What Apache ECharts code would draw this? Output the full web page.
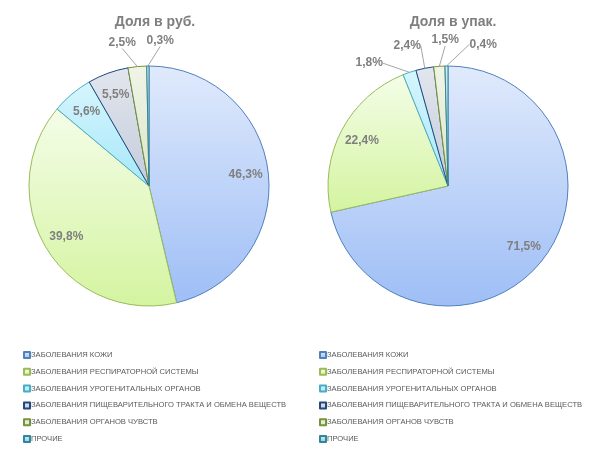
<!DOCTYPE html>
<html>
<head>
<meta charset="utf-8">
<script src="https://cdn.jsdelivr.net/npm/echarts@6/dist/echarts.min.js"></script>
<style>html,body{margin:0;padding:0;background:#fff}#c{width:600px;height:450px}</style>
</head>
<body>
<div id="c"></div>
<script>
const categories = [
  'ЗАБОЛЕВАНИЯ КОЖИ',
  'ЗАБОЛЕВАНИЯ РЕСПИРАТОРНОЙ СИСТЕМЫ',
  'ЗАБОЛЕВАНИЯ УРОГЕНИТАЛЬНЫХ ОРГАНОВ',
  'ЗАБОЛЕВАНИЯ ПИЩЕВАРИТЕЛЬНОГО ТРАКТА И ОБМЕНА ВЕЩЕСТВ',
  'ЗАБОЛЕВАНИЯ ОРГАНОВ ЧУВСТВ',
  'ПРОЧИЕ'
];
const shareRub = [46.3, 39.8, 5.6, 5.5, 2.5, 0.3];
const sharePack = [71.5, 22.4, 1.8, 2.4, 1.5, 0.4];
const titles = ['Доля в руб.', 'Доля в упак.'];

const fillTop = ['#e0eafc', '#f4fde8', '#d6f5fd', '#e2e6ee', '#f0f4e8', '#d0eef4'];
const fillBottom = ['#9ebef6', '#d4f4a0', '#a6e8fa', '#c4ccda', '#dce6c8', '#8ccfe0'];
const borders = ['#4f81bd', '#9bbb59', '#4bacc6', '#1f497d', '#77933c', '#31859c'];

const centers = [[149, 186], [448, 186]];
const R = 120;
const OUT_R = R + 26;
const LABEL_STEP = 38;
const FONT = 'Liberation Sans, Arial, sans-serif';

function grad(i) {
  return new echarts.graphic.LinearGradient(0, 0, 0, 1, [
    { offset: 0, color: fillTop[i] },
    { offset: 1, color: fillBottom[i] }
  ]);
}

function midAngle(values, i) {
  const total = values.reduce((a, b) => a + b, 0);
  let cum = 0;
  for (let k = 0; k < i; k++) cum += values[k];
  return 2 * Math.PI * (cum + values[i] / 2) / total;
}

// Spread the small outside labels symmetrically along the top arc
function outsideLayout(values, c) {
  const items = [];
  values.forEach((v, i) => {
    if (v < 5) items.push({ i: i, ideal: c[0] + OUT_R * Math.sin(midAngle(values, i)) });
  });
  let groups = items.map(it => ({ members: [it], mean: it.ideal }));
  let merged = true;
  while (merged) {
    merged = false;
    for (let g = 0; g < groups.length - 1; g++) {
      const a = groups[g], b = groups[g + 1];
      const aRight = a.mean + (a.members.length - 1) / 2 * LABEL_STEP;
      const bLeft = b.mean - (b.members.length - 1) / 2 * LABEL_STEP;
      if (bLeft - aRight < LABEL_STEP) {
        const members = a.members.concat(b.members);
        const mean = members.reduce((s, m) => s + m.ideal, 0) / members.length;
        groups.splice(g, 2, { members: members, mean: mean });
        merged = true;
        break;
      }
    }
  }
  const pos = {};
  groups.forEach(gr => {
    const n = gr.members.length;
    gr.members.forEach((m, k) => {
      const x = gr.mean + (k - (n - 1) / 2) * LABEL_STEP;
      const dx = Math.min(Math.abs(x - c[0]), OUT_R - 1);
      pos[m.i] = { x: x, y: c[1] - Math.sqrt(OUT_R * OUT_R - dx * dx) };
    });
  });
  return pos;
}

function buildData(values) {
  return values.map((v, i) => ({
    name: categories[i],
    value: v,
    itemStyle: { color: grad(i), borderColor: borders[i], borderWidth: 1 },
    label: { position: v >= 5 ? 'inside' : 'outside' },
    labelLine: { show: v >= 5 ? false : true }
  }));
}

function makeSeries(values, idx) {
  const c = centers[idx];
  const outPos = outsideLayout(values, c);
  return {
    type: 'pie',
    center: c,
    radius: R,
    startAngle: 90,
    clockwise: true,
    avoidLabelOverlap: false,
    data: buildData(values),
    label: {
      formatter: p => p.value.toFixed(1).replace('.', ',') + '%',
      color: '#7f7f7f',
      fontFamily: FONT,
      fontWeight: 'bold',
      fontSize: 12
    },
    labelLine: { length: 8, length2: 0, lineStyle: { color: '#a6a6a6', width: 1 } },
    labelLayout: function (p) {
      const val = values[p.dataIndex];
      if (val >= 5) {
        const a = midAngle(values, p.dataIndex);
        const rho = 0.81 * R;
        return { x: c[0] + rho * Math.sin(a), y: c[1] - rho * Math.cos(a), align: 'center', verticalAlign: 'middle' };
      }
      const q = outPos[p.dataIndex];
      return { x: q.x, y: q.y, align: 'center', verticalAlign: 'middle' };
    },
    emphasis: { disabled: true }
  };
}

function legend(left) {
  return {
    data: categories,
    orient: 'vertical',
    left: left,
    top: 346,
    itemWidth: 6,
    itemHeight: 6,
    itemGap: 8.8,
    icon: 'rect',
    selectedMode: false,
    textStyle: { fontSize: 7.6, color: '#595959', fontFamily: FONT, padding: [0, 0, 0, -4] }
  };
}

const chart = echarts.init(document.getElementById('c'), null, { renderer: 'canvas' });
chart.setOption({
  animation: false,
  backgroundColor: '#ffffff',
  title: [
    { text: titles[0], left: 150, top: 10, textAlign: 'center', textStyle: { fontSize: 14, fontWeight: 'bold', color: '#7f7f7f', fontFamily: FONT } },
    { text: titles[1], left: 448, top: 10, textAlign: 'center', textStyle: { fontSize: 14, fontWeight: 'bold', color: '#7f7f7f', fontFamily: FONT } }
  ],
  legend: [legend(18), legend(314)],
  series: [makeSeries(shareRub, 0), makeSeries(sharePack, 1)]
});
</script>
</body>
</html>
